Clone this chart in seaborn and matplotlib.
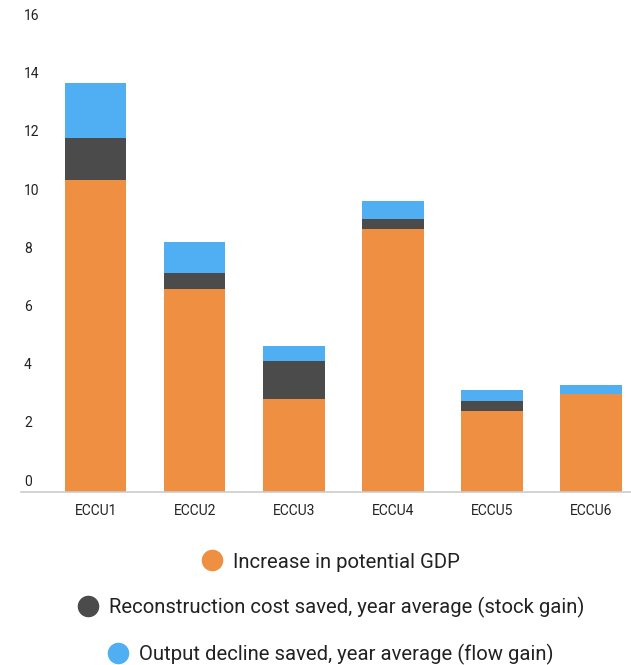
import matplotlib
matplotlib.use("Agg")
import matplotlib.pyplot as plt
import matplotlib.transforms as mtransforms
from matplotlib.lines import Line2D
import seaborn as sns
import pandas as pd

# Chart data
regions = ["ECCU1", "ECCU2", "ECCU3", "ECCU4", "ECCU5", "ECCU6"]
potential_gdp = [10.70, 6.95, 3.17, 9.03, 2.76, 3.35]
stock_gain = [1.45, 0.57, 1.33, 0.35, 0.35, 0.0]
flow_gain = [1.89, 1.05, 0.49, 0.61, 0.39, 0.30]
y_ticks = [0, 2, 4, 6, 8, 10, 12, 14, 16]
series_names = [
    "Increase in potential GDP",
    "Reconstruction cost saved, year average (stock gain)",
    "Output decline saved, year average (flow gain)",
]
colors = ["#ee8f41", "#4b4b4b", "#50aef3"]

sns.set_theme(style="white")
plt.rcParams["font.family"] = ["Roboto", "DejaVu Sans"]

W, H = 631, 665
fig = plt.figure(figsize=(W / 100, H / 100), dpi=100)
ax_left, ax_right = 21 / W, 1.0
ax_bottom, ax_top = (H - 491.5) / H, (H - 26) / H
ax = fig.add_axes([ax_left, ax_bottom, ax_right - ax_left, ax_top - ax_bottom])

# Cumulative heights for the stacked layers (drawn back to front)
level1 = potential_gdp
level2 = [a + b for a, b in zip(potential_gdp, stock_gain)]
level3 = [a + b for a, b in zip(level2, flow_gain)]

df = pd.DataFrame({"region": regions, "l1": level1, "l2": level2, "l3": level3})
for col, c in zip(["l3", "l2", "l1"], colors[::-1]):
    sns.barplot(data=df, x="region", y=col, color=c, width=0.62,
                saturation=1, edgecolor="none", linewidth=0, ax=ax, zorder=2)

ax.set_xlim(-0.755, 5.405)
ax.set_ylim(0, 16)
ax.set_xlabel("")
ax.set_ylabel("")

for s in ["left", "right", "top"]:
    ax.spines[s].set_visible(False)
ax.spines["bottom"].set_color("#cccccc")
ax.spines["bottom"].set_linewidth(1.2)
ax.spines["bottom"].set_zorder(3)

ax.set_yticks([])
ax.tick_params(axis="x", length=0, pad=9, labelsize=10, labelcolor="#222222")

# y labels sit just above their gridline position, left-aligned
ytrans = mtransforms.offset_copy(ax.get_yaxis_transform(), fig=fig, x=3, y=3, units="dots")
for t in y_ticks:
    ax.text(0, t, f"{t}", transform=ytrans, ha="left", va="bottom",
            fontsize=10, color="#222222", clip_on=False)

# Legend: one centred row per series
rows_y = [562, 607, 654]
for name, c, yy in zip(series_names, colors, rows_y):
    handle = Line2D([], [], marker="o", linestyle="none", markersize=14.5,
                    markerfacecolor=c, markeredgecolor=c)
    fig.legend([handle], [name], loc="center", bbox_to_anchor=(331 / W, 1 - yy / H),
               frameon=False, fontsize=14.6, handletextpad=0.55, handlelength=1.0,
               borderpad=0, labelcolor="#222222")

fig.savefig("out.png", dpi=100)
